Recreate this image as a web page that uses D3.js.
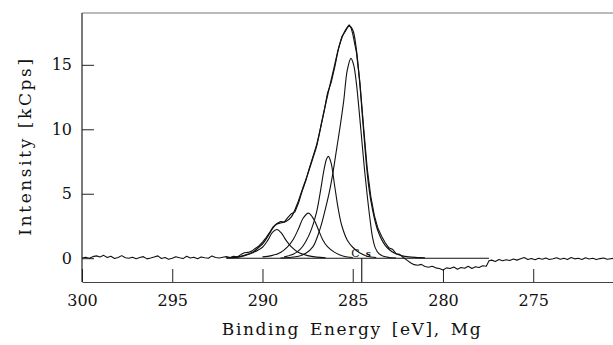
<!DOCTYPE html>
<html>
<head>
<meta charset="utf-8">
<script src="https://cdn.jsdelivr.net/npm/d3@7"></script>
<style>
  body { margin: 0; background: #fff; }
  svg { display: block; }
</style>
</head>
<body>
<svg id="chart" width="613" height="345"></svg>
<script>
// binding energy [eV], intensity [kCps]

// measured spectrum (noisy)
const measured = [
  [300.0, 0.02], [299.8, 0.08], [299.6, 0.0], [299.4, 0.12], [299.2, 0.18], [299.0, 0.1],
  [298.8, 0.22], [298.6, 0.05], [298.4, 0.15], [298.2, -0.02], [298.0, 0.06], [297.8, 0.2],
  [297.6, 0.03], [297.4, 0.0], [297.2, 0.08], [297.0, -0.04], [296.8, 0.05], [296.6, 0.12],
  [296.4, -0.05], [296.2, 0.02], [296.0, 0.1], [295.8, 0.18], [295.6, -0.02], [295.4, 0.05],
  [295.2, -0.08], [295.0, 0.0], [294.8, 0.12], [294.6, 0.04], [294.4, -0.03], [294.2, 0.15],
  [294.0, 0.02], [293.8, 0.08], [293.6, -0.04], [293.4, 0.1], [293.2, 0.03], [293.0, 0.0],
  [292.8, 0.18], [292.6, 0.05], [292.4, 0.02], [292.2, 0.08], [292.0, 0.12], [291.8, 0.06],
  [291.6, 0.15], [291.4, 0.1], [291.2, 0.28], [291.0, 0.42], [290.8, 0.45], [290.6, 0.55],
  [290.4, 0.75], [290.2, 0.95], [290.0, 1.25], [289.8, 1.6], [289.6, 2.0], [289.4, 2.45],
  [289.2, 2.7], [289.0, 2.85], [288.8, 2.8], [288.6, 3.15], [288.4, 3.45], [288.2, 3.6],
  [288.0, 4.3], [287.8, 5.2], [287.6, 6.0], [287.4, 7.0], [287.2, 7.9], [287.0, 8.8],
  [286.8, 10.0], [286.6, 11.3], [286.4, 12.8], [286.2, 13.6], [286.0, 14.8], [285.8, 16.2],
  [285.6, 17.2], [285.4, 17.6], [285.3, 17.9], [285.2, 18.1], [285.1, 17.9], [285.0, 17.4],
  [284.8, 16.0], [284.6, 13.6], [284.4, 10.2], [284.2, 7.0], [284.0, 4.8], [283.8, 3.3],
  [283.6, 2.3], [283.4, 1.7], [283.2, 1.2], [283.0, 0.8], [282.8, 0.7], [282.6, 0.35],
  [282.4, 0.3], [282.2, 0.05], [282.0, -0.15], [281.8, -0.35], [281.6, -0.5], [281.4, -0.55],
  [281.2, -0.48], [281.0, -0.65], [280.8, -0.7], [280.6, -0.62], [280.4, -0.75], [280.2, -0.8],
  [280.0, -0.92], [279.8, -0.75], [279.6, -0.8], [279.4, -0.68], [279.2, -0.85], [279.0, -0.72],
  [278.8, -0.78], [278.6, -0.62], [278.4, -0.8], [278.2, -0.66], [278.0, -0.72], [277.8, -0.58],
  [277.6, -0.62], [277.45, -0.2], [277.3, -0.15], [277.1, -0.25], [276.9, -0.1], [276.7, -0.2],
  [276.5, -0.12], [276.3, -0.18], [276.1, -0.06], [275.9, -0.15], [275.7, -0.05], [275.5, 0.05],
  [275.3, -0.1], [275.1, -0.02], [274.9, -0.12], [274.7, 0.0], [274.5, -0.08], [274.3, 0.02],
  [274.1, -0.1], [273.9, -0.04], [273.7, 0.04], [273.5, -0.08], [273.3, 0.0], [273.1, -0.1],
  [272.9, 0.05], [272.7, -0.05], [272.5, 0.0], [272.3, -0.1], [272.1, 0.03], [271.9, -0.06],
  [271.7, 0.0], [271.5, -0.1], [271.3, -0.03], [271.1, 0.02], [270.9, -0.08], [270.7, -0.04],
  [270.5, 0.0]
];

// fitted envelope
const envelope = [
  [292.0, 0.02], [291.5, 0.06], [291.0, 0.22], [290.5, 0.5], [290.2, 0.85], [290.0, 1.1],
  [289.7, 1.7], [289.45, 2.3], [289.2, 2.65], [288.95, 2.75], [288.7, 2.85], [288.4, 3.2],
  [288.1, 4.1], [287.8, 5.3], [287.5, 6.5], [287.2, 7.8], [287.0, 8.7], [286.7, 10.7],
  [286.4, 12.6], [286.2, 13.8], [286.0, 15.0], [285.8, 16.2], [285.6, 17.1], [285.4, 17.7],
  [285.2, 18.0], [285.0, 17.7], [284.8, 16.2], [284.6, 13.4], [284.45, 10.8], [284.3, 8.2],
  [284.15, 6.0], [284.0, 4.5], [283.8, 3.1], [283.6, 2.1], [283.4, 1.45], [283.2, 1.0],
  [283.0, 0.7], [282.7, 0.4], [282.3, 0.2], [281.9, 0.1], [281.4, 0.05], [281.0, 0.02]
];

// fitted components
const peakA = [
  [289.0, 0.02], [288.5, 0.06], [288.0, 0.15], [287.6, 0.38], [287.2, 0.9], [286.9, 1.9],
  [286.7, 2.8], [286.5, 3.9], [286.3, 5.1], [286.1, 6.6], [285.9, 8.4], [285.7, 10.2],
  [285.5, 12.2], [285.3, 14.6], [285.1, 15.5], [284.95, 15.0], [284.8, 13.6], [284.65, 11.5],
  [284.5, 9.2], [284.35, 6.9], [284.2, 4.9], [284.05, 3.1], [283.9, 1.6], [283.75, 0.8],
  [283.55, 0.35], [283.3, 0.15], [283.0, 0.06], [282.6, 0.02]
];
const peakB = [
  [288.8, 0.1], [288.3, 0.3], [287.9, 0.7], [287.6, 1.3], [287.3, 2.2], [287.0, 3.6],
  [286.8, 5.1], [286.6, 6.8], [286.45, 7.7], [286.35, 7.9], [286.2, 7.4], [286.0, 5.6],
  [285.8, 3.8], [285.6, 2.5], [285.3, 1.4], [285.0, 0.85], [284.6, 0.4], [284.2, 0.15],
  [283.7, 0.05]
];
const peakC = [
  [290.0, 0.1], [289.5, 0.2], [289.0, 0.45], [288.6, 0.9], [288.3, 1.45], [288.0, 2.3],
  [287.75, 3.1], [287.45, 3.5], [287.15, 3.0], [286.9, 2.2], [286.65, 1.4], [286.4, 0.9],
  [286.0, 0.45], [285.5, 0.15], [285.0, 0.05]
];
const peakD = [
  [291.5, 0.05], [291.0, 0.2], [290.5, 0.45], [290.0, 0.85], [289.7, 1.4], [289.45, 2.0],
  [289.2, 2.23], [288.95, 1.95], [288.7, 1.4], [288.4, 0.88], [288.0, 0.45], [287.5, 0.2],
  [287.0, 0.08], [286.5, 0.03]
];

// background line of the fit
const background = [[292.0, 0], [277.45, 0]];

const xTicks = [300, 295, 290, 285, 280, 275];
const yTicks = [0, 5, 10, 15];
const markerE = 284.5;

const W = 613, H = 345;
const plot = { left: 82, top: 13, right: 613, bottom: 282 };
const serif = "'DejaVu Serif', 'Liberation Serif', serif";

const svg = d3.select("#chart");

const x = d3.scaleLinear().domain([300, 270.58]).range([plot.left, plot.right]);
const y = d3.scaleLinear().domain([-1.846, 19.02]).range([plot.bottom, plot.top]);

svg.append("defs").append("clipPath").attr("id", "clip")
  .append("rect")
  .attr("x", plot.left).attr("y", plot.top)
  .attr("width", plot.right - plot.left).attr("height", plot.bottom - plot.top);

// frame: top border
svg.append("line")
  .attr("x1", plot.left).attr("x2", plot.right)
  .attr("y1", plot.top).attr("y2", plot.top)
  .attr("stroke", "#777").attr("stroke-width", 1.2);

// axes
const xAxis = d3.axisBottom(x).tickValues(xTicks).tickSize(-13).tickSizeOuter(0).tickPadding(13)
  .tickFormat(d3.format("d"));
const gx = svg.append("g").attr("transform", `translate(0,${plot.bottom})`).call(xAxis);
gx.select(".domain").attr("stroke", "#444").attr("stroke-width", 1.2);
gx.selectAll(".tick line").attr("stroke", "#222");
gx.selectAll("text").attr("font-family", serif).attr("font-size", 16).attr("fill", "#111");

const yAxis = d3.axisLeft(y).tickValues(yTicks).tickSize(-12).tickSizeOuter(0).tickPadding(10);
const gy = svg.append("g").attr("transform", `translate(${plot.left},0)`).call(yAxis);
gy.select(".domain").attr("stroke", "#222").attr("stroke-width", 1.2)
  .attr("d", `M0,${plot.top}V${plot.bottom}`);
gy.selectAll(".tick line").attr("stroke", "#222");
gy.selectAll("text").attr("font-family", serif).attr("font-size", 16).attr("fill", "#111");

// curves
const smooth = d3.line().x(d => x(d[0])).y(d => y(d[1])).curve(d3.curveCatmullRom.alpha(0.5));
const raw = d3.line().x(d => x(d[0])).y(d => y(d[1]));

const g = svg.append("g").attr("clip-path", "url(#clip)")
  .attr("fill", "none").attr("stroke", "#111").attr("stroke-linejoin", "round");

g.append("path").datum(background).attr("d", raw).attr("stroke-width", 1.1);
[peakD, peakC, peakB, peakA].forEach(p =>
  g.append("path").datum(p).attr("d", smooth).attr("stroke-width", 1.1));
g.append("path").datum(envelope).attr("d", smooth).attr("stroke-width", 1.2);
g.append("path").datum(measured).attr("d", raw).attr("stroke-width", 1.1);

// C 1s marker
svg.append("line")
  .attr("x1", x(markerE)).attr("x2", x(markerE))
  .attr("y1", y(0)).attr("y2", plot.bottom)
  .attr("stroke", "#111").attr("stroke-width", 1.1);
svg.append("text").attr("x", x(markerE) - 2).attr("y", y(0) - 1)
  .attr("text-anchor", "end").attr("font-family", serif).attr("font-size", 11)
  .attr("fill", "#111").text("C");
svg.append("text").attr("x", x(markerE) + 4).attr("y", y(0) - 1.5)
  .attr("font-family", serif).attr("font-size", 9).attr("font-weight", "bold")
  .attr("fill", "#111").text("s");

// titles
svg.append("text")
  .attr("transform", "translate(31,146) rotate(-90)")
  .attr("text-anchor", "middle").attr("font-family", serif).attr("font-size", 17)
  .attr("letter-spacing", "2.6px").attr("fill", "#111")
  .text("Intensity [kCps]");

svg.append("text")
  .attr("x", 352).attr("y", 335)
  .attr("text-anchor", "middle").attr("font-family", serif).attr("font-size", 17)
  .attr("letter-spacing", "1.6px").attr("word-spacing", "3px").attr("fill", "#111")
  .text("Binding Energy [eV], Mg");
</script>
</body>
</html>
